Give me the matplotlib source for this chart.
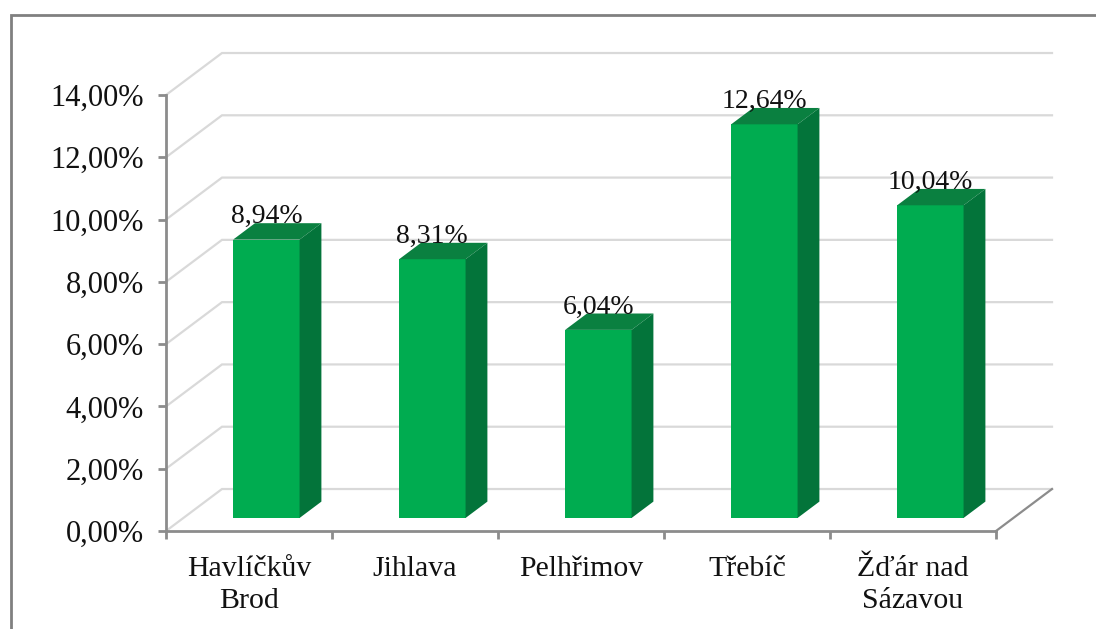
import numpy as np
import matplotlib
matplotlib.use('Agg')
import matplotlib.pyplot as plt
from matplotlib.patches import Polygon
from matplotlib.lines import Line2D

categories = ['Havlíčkův\nBrod', 'Jihlava', 'Pelhřimov', 'Třebíč', 'Žďár nad\nSázavou']
values = [8.94, 8.31, 6.04, 12.64, 10.04]
labels = ['8,94%', '8,31%', '6,04%', '12,64%', '10,04%']
y_ticks = [0, 2, 4, 6, 8, 10, 12, 14]
y_tick_labels = ['0,00%', '2,00%', '4,00%', '6,00%', '8,00%', '10,00%', '12,00%', '14,00%']

plt.rcParams['font.family'] = ['Liberation Serif', 'DejaVu Serif']

W, H = 1096, 629
fig = plt.figure(figsize=(W / 100, H / 100), dpi=100)
ax = fig.add_axes([166 / W, 1 - 531 / H, 830 / W, 436 / H])
ax.set_xlim(0, 5)
ax.set_ylim(0, 14)
ax.patch.set_alpha(0)

# oblique depth of the chart box, in data units
depth_x = 56 / 166
depth_y = 42 / 31.15
bar_start = 0.31
bar_depth = 0.39
bar_width = 0.4

grid_col = '#D9D9D9'
axis_col = '#8C8C8C'

# back wall and left wall gridlines
for t in y_ticks:
    ax.plot([0, depth_x, 5 + depth_x], [t, t + depth_y, t + depth_y],
            color=grid_col, lw=1.6, clip_on=False, zorder=1, solid_joinstyle='miter')

# right edge of the floor
ax.plot([5, 5 + depth_x], [0, depth_y], color=axis_col, lw=1.6, clip_on=False, zorder=2)

# bars: front face, then the side and top from the same values
x = np.arange(5) + 0.5
front_x = x + bar_start * depth_x
base = bar_start * depth_y
ax.bar(front_x, values, width=bar_width, bottom=base, color='#00AC50', zorder=3, clip_on=False)

dx = bar_depth * depth_x
dy = bar_depth * depth_y
for fx, v in zip(front_x, values):
    x0 = fx - bar_width / 2
    x1 = fx + bar_width / 2
    top = base + v
    ax.add_patch(Polygon([[x0, top], [x1, top], [x1 + dx, top + dy], [x0 + dx, top + dy]],
                         closed=True, color='#0A8040', lw=0, zorder=3, clip_on=False))
    ax.add_patch(Polygon([[x1, base], [x1 + dx, base + dy], [x1 + dx, top + dy], [x1, top]],
                         closed=True, color='#03743A', lw=0, zorder=3, clip_on=False))

for fx, v, lab in zip(front_x, values, labels):
    ax.text(fx, base + v + dy, lab, ha='center', va='baseline', fontsize=20,
            color='#111111', zorder=4, clip_on=False)

# axes
for s in ['top', 'right']:
    ax.spines[s].set_visible(False)
for s in ['left', 'bottom']:
    ax.spines[s].set_color(axis_col)
    ax.spines[s].set_linewidth(2)
    ax.spines[s].set_zorder(5)

ax.set_yticks(y_ticks)
ax.set_yticklabels(y_tick_labels, fontsize=22, color='#111111')
ax.tick_params(axis='y', length=6, width=2, color=axis_col, pad=10)

ax.set_xticks(np.arange(6))
ax.set_xticklabels([])
ax.set_xticks(x, minor=True)
ax.set_xticklabels(categories, minor=True, fontsize=21.5, color='#111111', linespacing=1.3)
ax.tick_params(axis='x', which='major', length=6, width=2, color=axis_col)
ax.tick_params(axis='x', which='minor', length=0, pad=18)

# frame of the slide, runs off right and bottom
frame_col = '#808080'
fig.add_artist(Line2D([10.5 / W, 10.5 / W, 1], [0, 1 - 15 / H, 1 - 15 / H],
                      color=frame_col, lw=2, solid_joinstyle='miter'))

fig.savefig('out.png', dpi=100)
